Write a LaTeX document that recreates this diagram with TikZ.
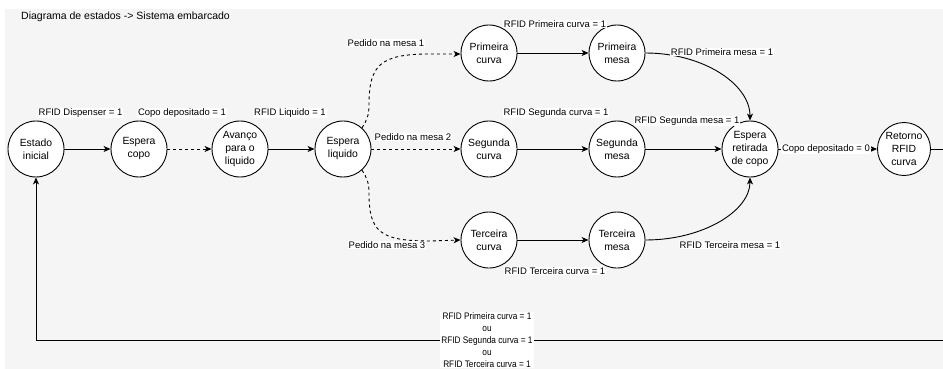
\documentclass[tikz,border=0pt]{standalone}
\usepackage{fontspec}
\setmainfont{Liberation Sans}
\newfontfamily\condfont[FakeStretch=0.87]{Liberation Sans}
\usetikzlibrary{arrows.meta}
\definecolor{bg}{HTML}{F5F5F5}
\tikzset{
  stnode/.style={circle, draw=black, fill=white, line width=0.9pt, minimum size=56pt, inner sep=0pt, align=center, font=\fontsize{10.4}{13}\selectfont},
  elabel/.style={fill=white, inner sep=1pt, font=\fontsize{9.5}{11}\selectfont},
  arr/.style={-{Stealth[length=7pt,width=6pt,inset=2pt]}, line width=0.9pt},
  dash2/.style={dash pattern=on 3pt off 3pt}
}
\begin{document}
\begin{tikzpicture}[x=1pt,y=-1pt]
\useasboundingbox (0,0) rectangle (943,369);
\clip (0,0) rectangle (943,369);
\fill[white] (0,0) rectangle (943,369);
\fill[bg] (5,9) rectangle (943,369);

\node[anchor=west, font=\fontsize{10.5}{12}\selectfont, inner sep=0pt] (title) at (21,17) {Diagrama de estados -> Sistema embarcado};

\node[stnode] (ini) at (36,149) {Estado\\inicial};
\node[stnode] (ec) at (139,149) {Espera\\copo};
\node[stnode] (av) at (240,149) {Avanço\\para o\\liquido};
\node[stnode] (el) at (343,149) {Espera\\liquido};
\node[stnode] (pc) at (489,53) {Primeira\\curva};
\node[stnode] (pm) at (617,53) {Primeira\\mesa};
\node[stnode] (sc) at (489,149) {Segunda\\curva};
\node[stnode] (sm) at (617,149) {Segunda\\mesa};
\node[stnode] (tc) at (489,240) {Terceira\\curva};
\node[stnode] (tm) at (617,240) {Terceira\\mesa};
\node[stnode] (er) at (750,149) {Espera\\retirada\\de copo};
\node[stnode, minimum size=53pt] (rr) at (904,149) {Retorno\\RFID\\curva};

\draw[arr] (ini) -- (ec);
\draw[arr,dash2] (ec) -- (av);
\draw[arr] (av) -- (el);
\draw[arr,dash2] (el) -- (sc);
\draw[arr,dash2] (el.48) .. controls (367,120) and (369,115) .. (369,105) .. controls (369,65) and (380,54) .. (430,54) -- (pc.182);
\draw[arr,dash2] (el.-48) .. controls (367,178) and (369,183) .. (369,193) .. controls (369,232) and (380,241) .. (430,241) -- (tc.west);
\draw[arr] (pc) -- (pm);
\draw[arr] (sc) -- (sm);
\draw[arr] (tc) -- (tm);
\draw[arr] (pm.east) .. controls (703,53) and (750,84) .. (er.north);
\draw[arr] (sm) -- (er);
\draw[arr] (tm.east) .. controls (703,240) and (750,211) .. (er.south);
\draw[arr] (er) -- (rr);
\draw[arr] (rr.east) -- ++(30,0) |- (ini.south |- 0,340) -- (ini.south);

\node[elabel] (l1) at (80.5,113) {RFID Dispenser = 1};
\node[elabel] (l2) at (182,113) {Copo depositado = 1};
\node[elabel] (l3) at (290,113) {RFID Liquido = 1};
\node[elabel] (l4) at (386,43) {Pedido na mesa 1};
\node[elabel] (l5) at (413,137) {Pedido na mesa 2};
\node[elabel] (l6) at (387,245) {Pedido na mesa 3};
\node[elabel] (l7) at (555,24) {RFID Primeira curva = 1};
\node[elabel] (l8) at (722,52) {RFID Primeira mesa = 1};
\node[elabel] (l9) at (556,113) {RFID Segunda curva = 1};
\node[elabel] (l10) at (687,121) {RFID Segunda mesa = 1};
\node[elabel] (l11) at (826,149) {Copo depositado = 0};
\node[elabel] (l12) at (555,271) {RFID Terceira curva = 1};
\node[elabel] (l13) at (730,245) {RFID Terceira mesa = 1};
\node[fill=white, inner sep=1pt, align=center, font=\condfont\fontsize{9.5}{12}\selectfont] (l14) at (487,340) {RFID Primeira curva = 1\\ou\\RFID Segunda curva = 1\\ou\\RFID Terceira curva = 1};
\end{tikzpicture}
\end{document}
